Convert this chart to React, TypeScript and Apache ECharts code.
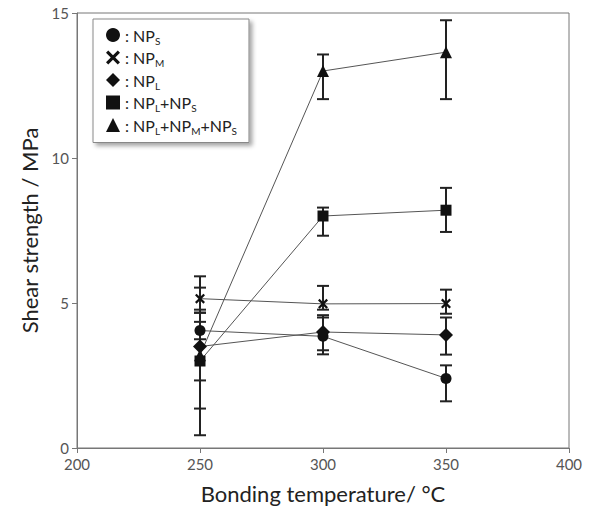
import React, { useEffect, useRef } from "react";
import * as echarts from "echarts";

// Bonding temperature (°C)
const temperatures = [250, 300, 350];

// Mean shear strength (MPa) for each nanoparticle mix
const npS = [4.05, 3.85, 2.4];
const npM = [5.15, 4.97, 4.98];
const npL = [3.5, 4.0, 3.9];
const npLS = [3.0, 8.0, 8.2];
const npLMS = [3.2, 13.0, 13.65];

// Error bar extents (MPa)
const npSLow = [3.75, 3.23, 1.61];
const npSHigh = [4.35, 4.5, 2.85];
const npMLow = [4.77, 4.77, 4.63];
const npMHigh = [5.53, 5.59, 5.46];
const npLLow = [2.33, 3.37, 3.22];
const npLHigh = [4.67, 4.58, 4.5];
const npLSLow = [1.36, 7.32, 7.45];
const npLSHigh = [4.66, 8.29, 8.97];
const npLMSLow = [0.44, 12.03, 12.03];
const npLMSHigh = [5.92, 13.57, 14.75];

const xTicks = [200, 250, 300, 350, 400];
const yTicks = [0, 5, 10, 15];

const CROSS =
  "path://M0,1.6L1.6,0L5,3.4L8.4,0L10,1.6L6.6,5L10,8.4L8.4,10L5,6.6L1.6,10L0,8.4L3.4,5Z";

type Mix = {
  name: string;
  label: string;
  symbol: string;
  size: number;
  mean: number[];
  low: number[];
  high: number[];
};

const mixes: Mix[] = [
  { name: "NPS", label: "{t|: NP}{s|S}", symbol: "circle", size: 11, mean: npS, low: npSLow, high: npSHigh },
  { name: "NPM", label: "{t|: NP}{s|M}", symbol: CROSS, size: 10, mean: npM, low: npMLow, high: npMHigh },
  { name: "NPL", label: "{t|: NP}{s|L}", symbol: "diamond", size: 14, mean: npL, low: npLLow, high: npLHigh },
  { name: "NPL+NPS", label: "{t|: NP}{s|L}{t|+NP}{s|S}", symbol: "rect", size: 11, mean: npLS, low: npLSLow, high: npLSHigh },
  {
    name: "NPL+NPM+NPS",
    label: "{t|: NP}{s|L}{t|+NP}{s|M}{t|+NP}{s|S}",
    symbol: "triangle",
    size: 12,
    mean: npLMS,
    low: npLMSLow,
    high: npLMSHigh,
  },
];

const FONT = "Lato, 'Open Sans', sans-serif";

export default function App() {
  const ref = useRef<HTMLDivElement>(null);

  useEffect(() => {
    document.body.style.margin = "0";
    if (!ref.current) return;
    const chart = echarts.init(ref.current, null, { renderer: "svg" });

    const errorSeries = mixes.map((m) => ({
      type: "custom",
      name: m.name + " error",
      z: 1,
      silent: true,
      data: temperatures.map((t, i) => [t, m.low[i], m.high[i]]),
      renderItem: (params: any, api: any) => {
        const lo = api.coord([api.value(0), api.value(1)]);
        const hi = api.coord([api.value(0), api.value(2)]);
        const half = 6;
        const style = { stroke: "#222", lineWidth: 2 };
        return {
          type: "group",
          children: [
            { type: "line", shape: { x1: lo[0], y1: lo[1], x2: hi[0], y2: hi[1] }, style },
            { type: "line", shape: { x1: lo[0] - half, y1: lo[1], x2: lo[0] + half, y2: lo[1] }, style },
            { type: "line", shape: { x1: hi[0] - half, y1: hi[1], x2: hi[0] + half, y2: hi[1] }, style },
          ],
        };
      },
    }));

    const lineSeries = mixes.map((m) => ({
      type: "line",
      name: m.name,
      z: 3,
      symbol: m.symbol,
      symbolSize: m.size,
      showAllSymbol: true,
      data: temperatures.map((t, i) => [t, m.mean[i]]),
      lineStyle: { color: "#555", width: 1 },
      itemStyle: { color: "#111", borderWidth: 0 },
    }));

    const labels: Record<string, string> = {};
    mixes.forEach((m) => (labels[m.name] = m.label));

    chart.setOption({
      animation: false,
      backgroundColor: "#fff",
      grid: {
        left: 77,
        right: 25,
        top: 13,
        bottom: 63,
        containLabel: false,
        outerBoundsMode: "none",
        show: true,
        borderColor: "#777",
        borderWidth: 1,
      },
      legend: {
        orient: "vertical",
        left: 93,
        top: 19,
        padding: [8, 12, 7, 13],
        itemGap: 4,
        itemWidth: 14,
        itemHeight: 14,
        backgroundColor: "#fff",
        borderColor: "#888",
        borderWidth: 1,
        shadowBlur: 4,
        shadowOffsetX: 3,
        shadowOffsetY: 3,
        shadowColor: "rgba(0,0,0,0.35)",
        data: mixes.map((m) => ({ name: m.name, icon: m.symbol, itemStyle: { color: "#111" } })),
        formatter: (name: string) => labels[name],
        textStyle: {
          rich: {
            t: { fontFamily: FONT, fontSize: 16, color: "#222", lineHeight: 21 },
            s: { fontFamily: FONT, fontSize: 10, color: "#222", lineHeight: 8, verticalAlign: "bottom" },
          },
        },
      },
      xAxis: {
        type: "value",
        min: xTicks[0],
        max: xTicks[xTicks.length - 1],
        interval: xTicks[1] - xTicks[0],
        name: "Bonding temperature/ °C",
        nameLocation: "middle",
        nameGap: 34,
        nameTextStyle: { fontFamily: FONT, fontSize: 22, color: "#222" },
        axisLine: { lineStyle: { color: "#777", width: 1 } },
        axisTick: { show: true, length: 5, lineStyle: { color: "#777" } },
        axisLabel: { fontFamily: FONT, fontSize: 15, color: "#555", margin: 8 },
        splitLine: { show: false },
      },
      yAxis: {
        type: "value",
        min: yTicks[0],
        max: yTicks[yTicks.length - 1],
        interval: yTicks[1] - yTicks[0],
        name: "Shear strength / MPa",
        nameLocation: "middle",
        nameGap: 35,
        nameTextStyle: { fontFamily: FONT, fontSize: 22, color: "#222" },
        axisLine: { show: true, lineStyle: { color: "#777", width: 1 } },
        axisTick: { show: true, length: 5, lineStyle: { color: "#777" } },
        axisLabel: { fontFamily: FONT, fontSize: 15, color: "#555", margin: 8 },
        splitLine: { show: false },
      },
      series: [...errorSeries, ...lineSeries],
    });

    return () => chart.dispose();
  }, []);

  return <div ref={ref} style={{ width: 594, height: 511 }} />;
}
